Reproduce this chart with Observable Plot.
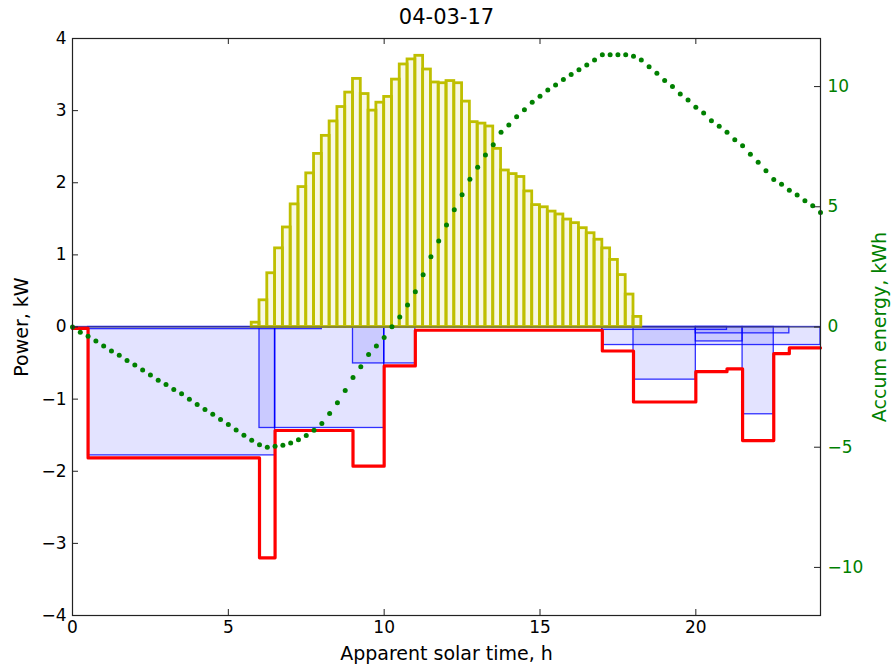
<!DOCTYPE html>
<html>
<head>
<meta charset="utf-8">
<script src="https://cdn.jsdelivr.net/npm/d3@7"></script>
<script src="https://cdn.jsdelivr.net/npm/@observablehq/plot@0.6"></script>
<style>
  html, body { margin: 0; padding: 0; background: white; }
  #chart { width: 892px; height: 667px; }
</style>
</head>
<body>
<div id="chart"></div>
<script>
// ---- Data ----
const title = "04-03-17";
const xLabel = "Apparent solar time, h";
const yLabel = "Power, kW";
const y2Label = "Accum energy, kWh";

const xTicks = [0, 5, 10, 15, 20];
const yTicks = [-4, -3, -2, -1, 0, 1, 2, 3, 4];
const y2Ticks = [-10, -5, 0, 5, 10];

// Solar production, 15-minute bars starting at 5.75 h (kW)
const solarStart = 5.75;
const solarStep = 0.25;
const solarPower = [
  0.06, 0.37, 0.745, 1.09, 1.38, 1.70, 1.94, 2.13, 2.40, 2.65,
  2.85, 3.05, 3.25, 3.44, 3.23, 3.00, 3.11, 3.19, 3.43, 3.64,
  3.71, 3.76, 3.57, 3.39, 3.38, 3.41, 3.38, 3.125, 2.84, 2.82,
  2.78, 2.47, 2.17, 2.12, 2.08, 1.88, 1.69, 1.66, 1.60, 1.56,
  1.49, 1.44, 1.37, 1.30, 1.21, 1.09, 0.93, 0.72, 0.45, 0.14
];

// Individual loads (kW): start, end, power
const loadStart = [0, 0.5, 6.0, 6.5, 9.0, 10.0, 17, 17, 18, 20, 20, 21.5];
const loadEnd   = [8, 6.5, 6.5, 10.0, 10.0, 11.0, 24, 21, 20, 21.5, 23, 22.5];
const loadPower = [-0.03, -1.78, -1.40, -1.40, -0.505, -0.505, -0.25, -0.04, -0.73, -0.20, -0.088, -1.21];

// Total consumption step line (kW)
const totalT = [0, 0.5, 6, 6.5, 9, 10, 11, 17, 18, 20, 21, 21.5, 22.5, 23, 24];
const totalP = [-0.02, -1.815, -3.2, -1.435, -1.93, -0.54, -0.045, -0.333, -1.04, -0.62, -0.58, -1.575, -0.37, -0.29, -0.29];

// Accumulated energy every 15 min from 0 to 24 h (kWh)
const accumStep = 0.25;
const accumEnergy = [
  0, -0.22, -0.38, -0.58, -0.79, -1.0, -1.18, -1.39, -1.58, -1.79,
  -2.0, -2.21, -2.39, -2.6, -2.78, -3.0, -3.22, -3.43, -3.63, -3.85,
  -4.06, -4.28, -4.5, -4.71, -4.9, -5.0, -4.96, -4.92, -4.82, -4.69,
  -4.51, -4.29, -4.01, -3.6, -3.15, -2.64, -2.10, -1.65, -1.14, -0.79,
  -0.44, 0.01, 0.42, 0.92, 1.47, 2.17, 2.92, 3.58, 4.24, 4.875,
  5.5, 6.15, 6.64, 7.15, 7.58, 8.10, 8.40, 8.75, 9.04, 9.35,
  9.6, 9.86, 10.07, 10.29, 10.5, 10.7, 10.9, 11.11, 11.32, 11.32,
  11.32, 11.32, 11.26, 11.11, 10.82, 10.55, 10.25, 10.0, 9.69, 9.44,
  9.14, 8.90, 8.58, 8.35, 8.10, 7.79, 7.54, 7.19, 6.85, 6.5,
  6.14, 5.94, 5.69, 5.49, 5.25, 5.04, 4.76
];

// ---- Build tables ----
const solar = solarPower.map((p, i) => ({t0: solarStart + i * solarStep, t1: solarStart + (i + 1) * solarStep, p}));
const loads = loadStart.map((s, i) => ({t0: s, t1: loadEnd[i], p: loadPower[i]}));
const total = totalT.map((t, i) => ({t, p: totalP[i]}));
const ratio = 3; // right axis (kWh) = 3 x left axis units
const accum = accumEnergy.map((e, i) => ({t: i * accumStep, e}));

const W = 892, H = 667;
const mL = 72, mR = 72, mT = 38, mB = 52;
const fw = W - mL - mR, fh = H - mT - mB;
const tick = 6;
const green = "#008000";

const chart = Plot.plot({
  width: W, height: H,
  marginLeft: mL, marginRight: mR, marginTop: mT, marginBottom: mB,
  style: {fontFamily: "DejaVu Sans", fontSize: "17px", background: "white", color: "black", overflow: "visible"},
  x: {domain: [0, 24]},
  y: {domain: [-4, 4]},
  marks: [
    // loads
    Plot.rect(loads, {x1: "t0", x2: "t1", y1: 0, y2: "p", fill: "blue", fillOpacity: 0.11, stroke: "blue", strokeOpacity: 0.8, strokeWidth: 1.3}),
    // solar bars
    Plot.rect(solar, {x1: "t0", x2: "t1", y1: 0, y2: "p", fill: "#bfbf00", fillOpacity: 0.11, stroke: "#bfbf00", strokeWidth: 2.8}),
    Plot.ruleY([0], {stroke: "#555", strokeWidth: 1}),
    // total consumption
    Plot.line(total, {x: "t", y: "p", curve: "step-after", stroke: "red", strokeWidth: 3.2}),
    // accumulated energy on right scale
    Plot.dot(accum, {x: "t", y: d => d.e / ratio, r: 2.5, fill: green, stroke: "none"}),
    Plot.frame({stroke: "#222", strokeWidth: 1.2}),
    // inward ticks
    Plot.tickY(yTicks, {y: d => d, insetRight: fw - tick, stroke: "#222"}),
    Plot.tickY(y2Ticks, {y: d => d / ratio, insetLeft: fw - tick, stroke: "#222"}),
    Plot.tickX(xTicks, {x: d => d, insetTop: fh - tick, stroke: "#222"}),
    Plot.tickX(xTicks, {x: d => d, insetBottom: fh - tick, stroke: "#222"}),
    // tick labels
    Plot.axisX({anchor: "bottom", ticks: xTicks, tickSize: 0, tickPadding: 5, label: null, tickFormat: d => String(d)}),
    Plot.axisY({anchor: "left", ticks: yTicks, tickSize: 0, tickPadding: 6, label: null, tickFormat: d => String(d).replace("-", "\u2212")}),
    Plot.axisY({anchor: "right", ticks: y2Ticks.map(d => d / ratio), tickSize: 0, tickPadding: 7, label: null,
      tickFormat: d => String(Math.round(d * ratio)).replace("-", "\u2212"), fill: green, color: green}),
    // titles
    Plot.text([title], {frameAnchor: "top", dy: -21, fontSize: 21, fill: "black", textAnchor: "middle", lineAnchor: "middle"}),
    Plot.text([xLabel], {frameAnchor: "bottom", dy: 38, fontSize: 19, fill: "black", textAnchor: "middle", lineAnchor: "middle"}),
    Plot.text([yLabel], {frameAnchor: "left", dx: -51, rotate: -90, fontSize: 19, fill: "black", textAnchor: "middle", lineAnchor: "middle"}),
    Plot.text([y2Label], {frameAnchor: "right", dx: 59, rotate: -90, fontSize: 19, fill: green, textAnchor: "middle", lineAnchor: "middle"})
  ]
});
document.getElementById("chart").appendChild(chart);
</script>
</body>
</html>
